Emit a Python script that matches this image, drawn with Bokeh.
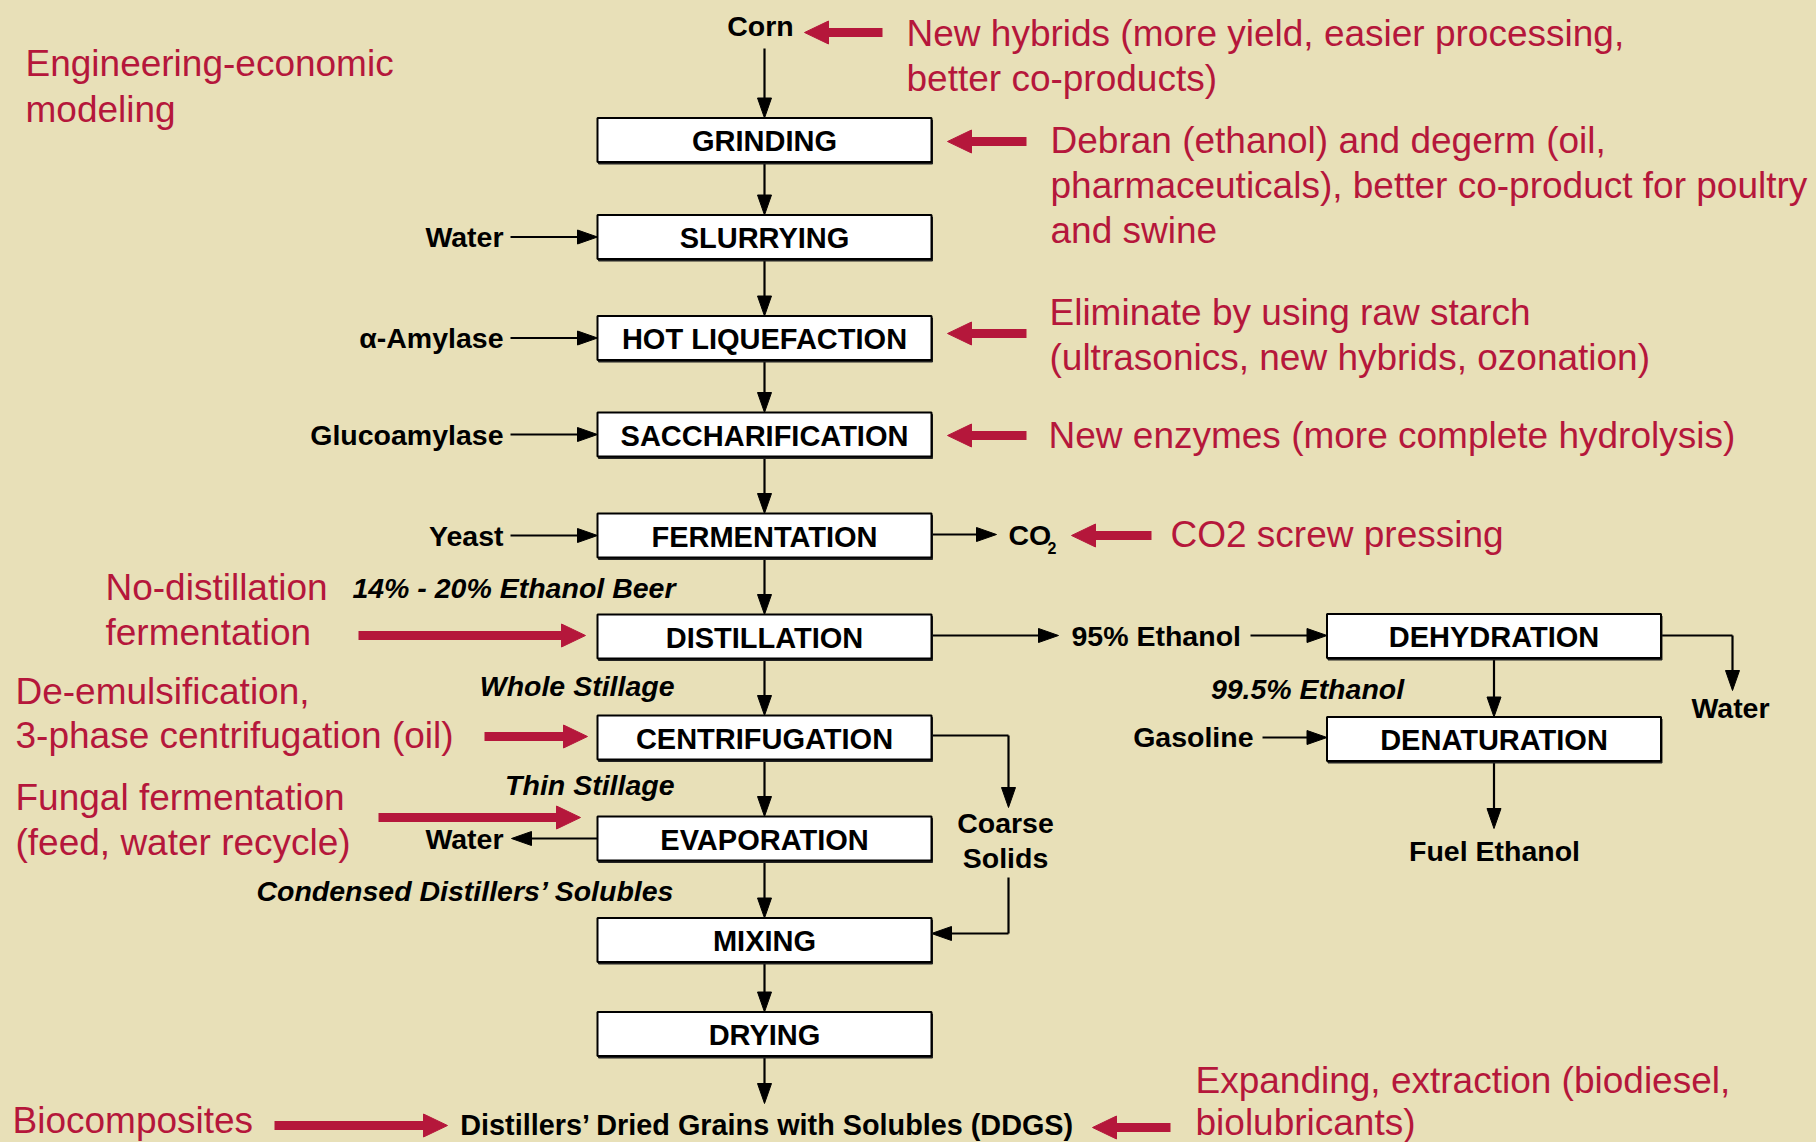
from bokeh.plotting import figure
from bokeh.models import Range1d
from bokeh.embed import file_html
from bokeh.resources import INLINE
from bokeh.core.properties import value

# ---------------- content ----------------
main_stages = ["GRINDING", "SLURRYING", "HOT LIQUEFACTION", "SACCHARIFICATION",
               "FERMENTATION", "DISTILLATION", "CENTRIFUGATION", "EVAPORATION",
               "MIXING", "DRYING"]
side_stages = ["DEHYDRATION", "DENATURATION"]
input_labels = ["Water", "\u03b1-Amylase", "Glucoamylase", "Yeast"]
stream_labels = ["14% - 20% Ethanol Beer", "Whole Stillage", "Thin Stillage",
                 "Condensed Distillers\u2019 Solubles"]
feed_label = "Corn"
product_label = "Distillers\u2019 Dried Grains with Solubles (DDGS)"
ethanol_labels = ["95% Ethanol", "99.5% Ethanol", "Fuel Ethanol"]
other_labels = ["Water", "Water", "Gasoline", "Coarse", "Solids", "CO", "2"]

note_lines = [
    "Engineering-economic", "modeling",
    "New hybrids (more yield, easier processing,", "better co-products)",
    "Debran (ethanol) and degerm (oil,",
    "pharmaceuticals), better co-product for poultry", "and swine",
    "Eliminate by using raw starch", "(ultrasonics, new hybrids, ozonation)",
    "New enzymes (more complete hydrolysis)",
    "CO2 screw pressing",
    "No-distillation", "fermentation",
    "De-emulsification,", "3-phase centrifugation (oil)",
    "Fungal fermentation", "(feed, water recycle)",
    "Biocomposites",
    "Expanding, extraction (biodiesel,", "biolubricants)",
]

# ---------------- layout (reference pixel coordinates) ----------------
BG = "#E8E0B8"
RED = "#B5173B"
FONT = value("Liberation Sans")

main_cx = 764
box_w, box_h = 334, 44
main_cy = [139.5, 236.5, 337.5, 434, 535, 636, 737, 838, 939.5, 1033.5]
side_cx = 1493.5
side_cy = [635.5, 738.5]

note_x = [25, 25, 906, 906, 1050, 1050, 1050, 1049, 1049, 1048, 1170,
          105, 105, 15, 15, 15, 15, 12, 1195, 1195]
note_y = [63, 109, 33, 78, 140, 185, 230, 312, 357, 435, 534,
          587, 632, 691, 735, 797, 842, 1120, 1080, 1122]

p = figure(width=1816, height=1142, output_backend="svg", toolbar_location=None,
           x_range=Range1d(0, 1816), y_range=Range1d(1142, 0),
           min_border=0, background_fill_color=BG, border_fill_color=BG,
           outline_line_color=None)
p.axis.visible = False
p.grid.visible = False

# ---------------- arrows ----------------
blk_seg = {"x0": [], "y0": [], "x1": [], "y1": []}
blk_tri = {"xs": [], "ys": []}
red_seg = {"x0": [], "y0": [], "x1": [], "y1": []}
red_tri = {"xs": [], "ys": []}


def arrow(pts, seg, tri, hl, hw):
    for (xa, ya), (xb, yb) in zip(pts[:-2], pts[1:-1]):
        seg["x0"].append(xa); seg["y0"].append(ya)
        seg["x1"].append(xb); seg["y1"].append(yb)
    (xa, ya), (xb, yb) = pts[-2], pts[-1]
    dx, dy = xb - xa, yb - ya
    L = (dx * dx + dy * dy) ** 0.5
    ux, uy = dx / L, dy / L
    bx, by = xb - ux * hl, yb - uy * hl
    seg["x0"].append(xa); seg["y0"].append(ya)
    seg["x1"].append(bx + ux * 2); seg["y1"].append(by + uy * 2)
    nx, ny = -uy, ux
    tri["xs"].append([xb, bx + nx * hw / 2, bx - nx * hw / 2])
    tri["ys"].append([yb, by + ny * hw / 2, by - ny * hw / 2])


def barrow(pts):
    arrow(pts, blk_seg, blk_tri, 20, 14)


def rarrow(x0, x1, y):
    arrow([(x0, y), (x1, y)], red_seg, red_tri, 24, 23)


top = lambda cy: cy - box_h / 2
bot = lambda cy: cy + box_h / 2
L_, R_ = main_cx - box_w / 2, main_cx + box_w / 2
SL, SR = side_cx - box_w / 2, side_cx + box_w / 2

barrow([(main_cx, 48), (main_cx, top(main_cy[0]))])
for a, b in zip(main_cy[:-1], main_cy[1:]):
    barrow([(main_cx, bot(a)), (main_cx, top(b))])
barrow([(main_cx, bot(main_cy[-1])), (main_cx, 1103)])
for cy in main_cy[1:5]:
    barrow([(510, cy), (L_, cy)])
barrow([(R_, 534), (996, 534)])
barrow([(R_, 635), (1058, 635)])
barrow([(1250, 635), (SL, 635)])
barrow([(SR, 635), (1732, 635), (1732, 690)])
barrow([(side_cx, bot(side_cy[0])), (side_cx, top(side_cy[1]))])
barrow([(1262, 737), (SL, 737)])
barrow([(side_cx, bot(side_cy[1])), (side_cx, 828)])
barrow([(R_, 735), (1008, 735), (1008, 807)])
barrow([(1008, 877), (1008, 933), (R_, 933)])
barrow([(L_, 838), (511, 838)])

rarrow(882, 804, 32)
rarrow(1026, 947, 141)
rarrow(1026, 947, 333)
rarrow(1026, 947, 435)
rarrow(1151, 1071, 535)
rarrow(358, 585, 635)
rarrow(484, 587, 736)
rarrow(378, 580, 817)
rarrow(274, 447, 1125)
rarrow(1170, 1092, 1127)

p.segment(**blk_seg, line_color="black", line_width=2.2)
p.patches(**blk_tri, fill_color="black", line_color="black", line_width=1)
p.segment(**red_seg, line_color=RED, line_width=9, line_cap="butt")
p.patches(**red_tri, fill_color=RED, line_color=RED, line_width=1)

# ---------------- boxes ----------------
bx_cx = [main_cx] * len(main_cy) + [side_cx] * len(side_cy)
bx_cy = main_cy + side_cy
# shadow
p.quad(left=[c - box_w / 2 + 1 for c in bx_cx], right=[c + box_w / 2 + 1 for c in bx_cx],
       top=[c - box_h / 2 + 2 for c in bx_cy], bottom=[c + box_h / 2 + 2 for c in bx_cy],
       fill_color="#222222", line_color="#222222", line_width=1)
p.quad(left=[c - box_w / 2 for c in bx_cx], right=[c + box_w / 2 for c in bx_cx],
       top=[c - box_h / 2 for c in bx_cy], bottom=[c + box_h / 2 for c in bx_cy],
       fill_color="white", line_color="black", line_width=2)
p.text(x=bx_cx, y=[c + 1 for c in bx_cy], text=main_stages + side_stages,
       text_font=FONT, text_font_size="29px", text_font_style="bold",
       text_color="black", text_align="center", text_baseline="middle")

# ---------------- labels ----------------
def lab(xs, ys, texts, align, size="28.5px", style="bold", color="black"):
    p.text(x=xs, y=ys, text=texts, text_font=FONT, text_font_size=size,
           text_font_style=style, text_color=color, text_align=align,
           text_baseline="middle")


lab([503] * 4, main_cy[1:5], input_labels, "right")
lab([675, 674, 674, 674], [587, 685, 784, 890], stream_labels, "right",
    style="bold italic")
lab([760], [25], [feed_label], "center")
lab([767], [1124], [product_label], "center", size="28.8px")
lab([1071], [635], [ethanol_labels[0]], "left")
lab([1307], [688], [ethanol_labels[1]], "center", style="bold italic")
lab([1494], [850], [ethanol_labels[2]], "center")
lab([503, 1730, 1253, 1005, 1005, 1008], [838, 707, 736, 822, 857, 534],
    other_labels[:5] + [other_labels[5]],
    ["right", "center", "right", "center", "center", "left"])
lab([1047], [547], [other_labels[6]], "left", size="16px")

# red notes
lab(note_x, note_y, note_lines, "left", size="37px", style="normal", color=RED)

html = file_html(p, INLINE)
html = html.replace("<head>", "<head><style>body{background:%s;}</style>" % BG, 1)
open("out.html", "w").write(html)
